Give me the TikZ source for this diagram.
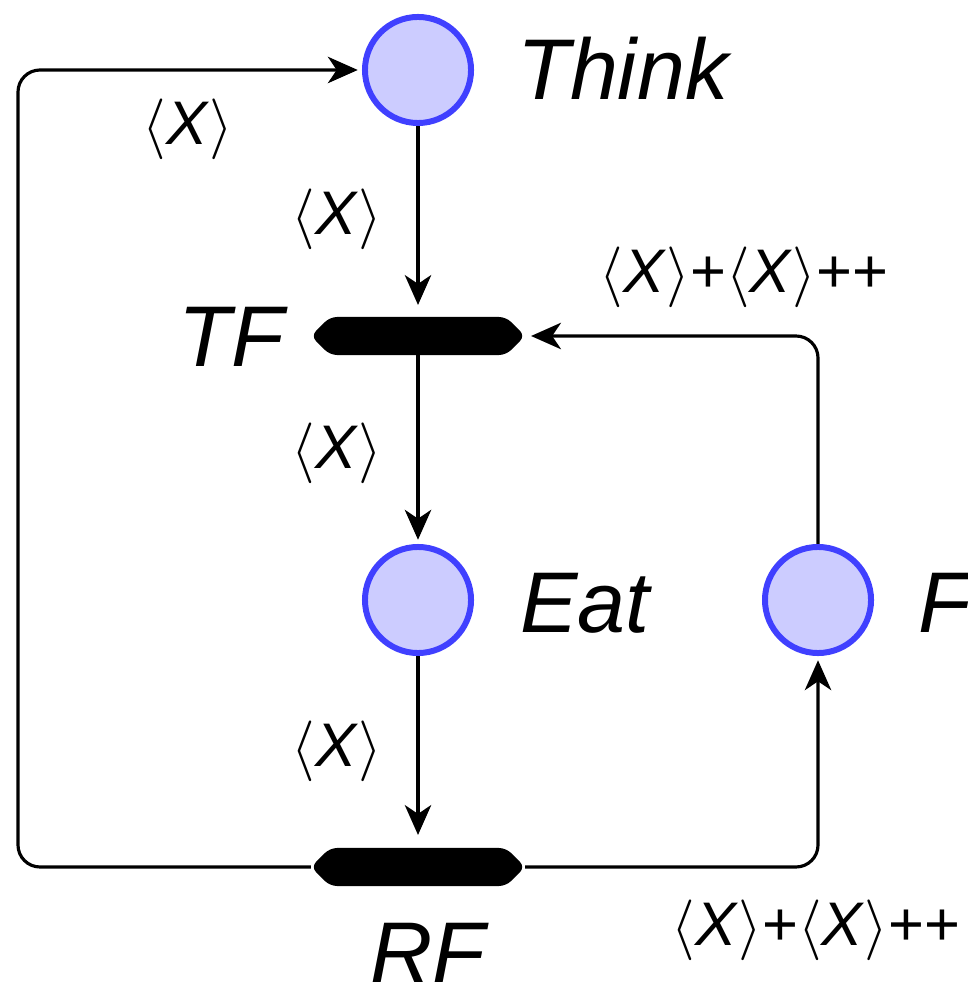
\documentclass[tikz,border=0pt]{standalone}
\usepackage{fontspec}
\setmainfont{Liberation Sans}
\usepackage{tikz}
\usetikzlibrary{shapes.symbols, arrows.meta, positioning}

\definecolor{placefill}{RGB}{204,204,255}
\definecolor{placeline}{RGB}{64,64,255}
\newcommand{\tokX}{$\langle$\textit{X}$\rangle$}

\begin{document}
\begin{tikzpicture}[
  x=0.01cm, y=-0.01cm,
  place/.style={circle, draw=placeline, fill=placefill, line width=1.7pt, minimum size=1.06cm, inner sep=0pt},
  trans/.style={signal, signal to=west and east, signal pointer angle=90, fill=black, minimum width=2.14cm, minimum height=0.38cm, inner sep=0pt, rounded corners=2pt, outer sep=0pt},
  arr/.style={line width=0.9pt, -{Stealth[length=8.5pt, width=7.5pt, inset=2.5pt]}, shorten >=1.2pt, rounded corners=0.22cm},
  plbl/.style={font=\fontsize{24.5}{28}\selectfont\itshape},
  lbl/.style={font=\fontsize{17.5}{20}\selectfont, inner sep=0pt},
]
\useasboundingbox (0,0) rectangle (967,995);

\node[place] (think) at (418,70) {};
\node[trans] (tf)    at (418,336) {};
\node[place] (eat)   at (418,600) {};
\node[place] (f)     at (818,600) {};
\node[trans] (rf)    at (418,867) {};
\coordinate (ltop) at (18,70);

\node[plbl, anchor=base west] (thinklbl) at (505,100) {Think};
\node[plbl, anchor=base west] (tflbl)    at (166,367) {TF};
\node[plbl, anchor=base west] (eatlbl)   at (508,632) {Eat};
\node[plbl, anchor=base west] (flbl)     at (906,632) {F};
\node[plbl, anchor=base west] (rflbl)    at (358,982) {RF};

\node[lbl, anchor=base] (l1) at (188,145) {\tokX};
\node[lbl, anchor=base] (l2) at (337,235) {\tokX};
\node[lbl, anchor=base] (l3) at (337,469) {\tokX};
\node[lbl, anchor=base] (l4) at (337,766) {\tokX};
\node[lbl, anchor=base] (l5) at (744,293) {\tokX+\tokX++};
\node[lbl, anchor=base] (l6) at (816,945) {\tokX+\tokX++};

\draw[arr, shorten >=0.12cm] (think) -- (tf);
\draw[arr] (tf) -- (eat);
\draw[arr, shorten >=0.13cm] (eat) -- (rf);
\draw[arr] (rf.west) -| (ltop) -- (think);
\draw[arr] (rf.east) -| (f);
\draw[arr, shorten >=0.06cm] (f) |- (tf.east);
\end{tikzpicture}
\end{document}
